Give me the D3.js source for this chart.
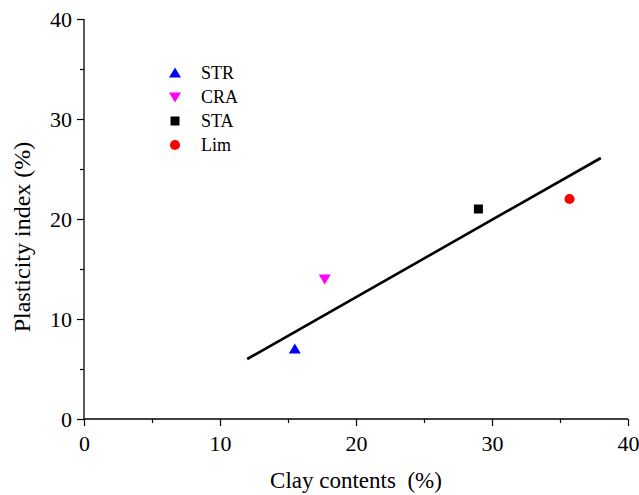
<!DOCTYPE html>
<html>
<head>
<meta charset="utf-8">
<script src="https://cdn.jsdelivr.net/npm/d3@7"></script>
<style>
  body { margin: 0; background: #fff; }
</style>
</head>
<body>
<div id="chart"></div>
<script>
// Plasticity index vs clay content, with a linear fit.
const soils = ['STR', 'CRA', 'STA', 'Lim'];
const clay = [15.5, 17.7, 29.0, 35.7];
const plasticity = [7.0, 14.0, 21.0, 22.0];
const colors = ['#0000ff', '#ff00ff', '#000000', '#ff0000'];
const symbols = ['up', 'down', 'square', 'circle'];
const fitX = [12, 38];
const fitY = [6.0, 26.1];
const xTicks = [0, 10, 20, 30, 40];
const yTicks = [0, 10, 20, 30, 40];

const serif = '"Liberation Serif", "Times New Roman", Times, serif';
const width = 639, height = 495;
const margin = { top: 19, right: 11, bottom: 76, left: 84 };
const innerW = width - margin.left - margin.right;
const innerH = height - margin.top - margin.bottom;

const svg = d3.select('#chart').append('svg').attr('width', width).attr('height', height);
const root = svg.append('g').attr('transform', `translate(${margin.left},${margin.top})`);

const x = d3.scaleLinear().domain([0, 40]).range([0, innerW]);
const y = d3.scaleLinear().domain([0, 40]).range([innerH, 0]);

// Axes: major ticks labelled, minor ticks in between, all pointing outward.
const xAxis = root.append('g').attr('transform', `translate(0,${innerH})`)
  .call(d3.axisBottom(x).tickValues(xTicks).tickSize(7).tickPadding(9).tickFormat(d3.format('d')));
root.append('g').attr('transform', `translate(0,${innerH})`)
  .call(d3.axisBottom(x).tickValues(d3.range(5, 40, 10)).tickSize(4).tickFormat(''))
  .call(g => g.select('.domain').remove());
const yAxis = root.append('g')
  .call(d3.axisLeft(y).tickValues(yTicks).tickSize(7).tickPadding(5).tickFormat(d3.format('d')));
root.append('g')
  .call(d3.axisLeft(y).tickValues(d3.range(5, 40, 10)).tickSize(4).tickFormat(''))
  .call(g => g.select('.domain').remove());

xAxis.select('.domain').attr('d', `M0,0H${innerW}`);
yAxis.select('.domain').attr('d', `M0,0V${innerH}`);
root.selectAll('.domain').attr('stroke', '#000').attr('stroke-width', 1.3);
root.selectAll('.tick line').attr('stroke', '#000').attr('stroke-width', 1.2);
root.selectAll('.tick text').attr('fill', '#000')
  .style('font-family', serif).style('font-size', '22px');

// Axis titles
svg.append('text').attr('x', margin.left + x(20)).attr('y', 488)
  .attr('text-anchor', 'middle')
  .style('font-family', serif).style('font-size', '23px').style('white-space', 'pre')
  .text('Clay contents  (%)');
svg.append('text').attr('transform', `translate(30,${margin.top + y(20) + 18}) rotate(-90)`)
  .attr('text-anchor', 'middle')
  .style('font-family', serif).style('font-size', '24px').style('white-space', 'pre')
  .text('Plasticity index (%)');

// Fit line
root.append('line')
  .attr('x1', x(fitX[0])).attr('y1', y(fitY[0]))
  .attr('x2', x(fitX[1])).attr('y2', y(fitY[1]))
  .attr('stroke', '#000').attr('stroke-width', 2.6);

function symbolPath(kind) {
  if (kind === 'up') return 'M0,-5.5L6,4.5L-6,4.5Z';
  if (kind === 'down') return 'M0,5.5L6,-4.5L-6,-4.5Z';
  if (kind === 'square') return 'M-4.5,-4.5H4.5V4.5H-4.5Z';
  return d3.symbol(d3.symbolCircle, 80)();
}

// Data points
root.selectAll('.pt').data(soils).enter().append('path')
  .attr('transform', (d, i) => `translate(${x(clay[i])},${y(plasticity[i])})`)
  .attr('d', (d, i) => symbolPath(symbols[i]))
  .attr('fill', (d, i) => colors[i]);

// Legend
const legend = svg.append('g').attr('transform', 'translate(175,73)');
const rows = legend.selectAll('g').data(soils).enter().append('g')
  .attr('transform', (d, i) => `translate(0,${i * 24})`);
rows.append('path').attr('d', (d, i) => symbolPath(symbols[i])).attr('fill', (d, i) => colors[i]);
rows.append('text').attr('x', 26).attr('y', 6)
  .style('font-family', serif).style('font-size', '18px').text(d => d);
</script>
</body>
</html>
